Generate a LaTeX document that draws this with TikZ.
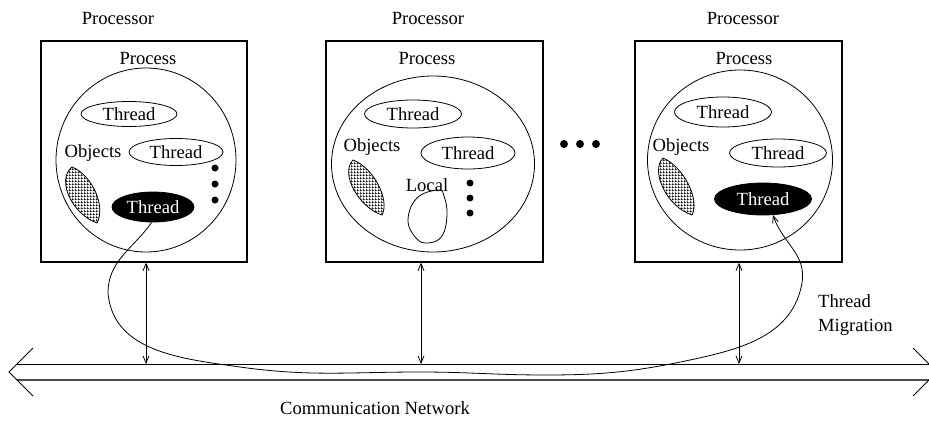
\documentclass[tikz,border=0pt]{standalone}
\usepackage{fontspec}
\setmainfont{Liberation Serif}
\usetikzlibrary{shapes.geometric,patterns,arrows.meta}

% fine square mesh fill for the object blobs
\pgfdeclarepatternformonly{finemesh}{\pgfpointorigin}{\pgfqpoint{3pt}{3pt}}{\pgfqpoint{3pt}{3pt}}{%
  \pgfpathrectangle{\pgfpointorigin}{\pgfqpoint{3pt}{0.9pt}}%
  \pgfpathrectangle{\pgfpointorigin}{\pgfqpoint{0.9pt}{3pt}}%
  \pgfusepath{fill}}

\tikzset{
  lbl/.style={inner sep=0pt, font=\fontsize{18.6}{24}\selectfont},
  procbox/.style={draw, line width=1.3pt, inner sep=0pt},
  procarea/.style={draw, ellipse, line width=0.8pt, inner sep=0pt},
  thr/.style={draw, ellipse, line width=0.8pt, inner sep=0pt, font=\fontsize{18.6}{22}\selectfont},
  thrblack/.style={thr, fill=black, text=white},
  objblob/.style={draw, line width=0.8pt, pattern=finemesh},
  bigdot/.style={circle, fill=black, inner sep=0pt, minimum size=7pt},
  link/.style={line width=0.8pt, {Straight Barb[length=7pt,width=6pt]}-{Straight Barb[length=7pt,width=6pt]}},
  migr/.style={line width=0.8pt, -{Straight Barb[length=7pt,width=6pt]}},
}

\begin{document}
\begin{tikzpicture}[x=1pt, y=-1pt]
\useasboundingbox (0,0) rectangle (929,428);
\clip (0,0) rectangle (929,428);

% ---------- processor 1 ----------
\node[lbl] (pr1) at (118,19) {Processor};
\node[procbox, minimum width=206pt, minimum height=221pt] (box1) at (144,151.5) {};
\node[procarea, minimum width=180pt, minimum height=184pt] (c1) at (146,160) {};
\node[lbl] (ps1) at (148,59) {Process};
\node[thr, minimum width=96pt, minimum height=25pt] (t11) at (129,114) {Thread};
\node[thr, minimum width=94pt, minimum height=27pt] (t12) at (176,152) {Thread};
\node[thrblack, minimum width=82pt, minimum height=30pt] (t13) at (153,207) {Thread};
\node[lbl] (ob1) at (93,153) {Objects};
\draw[objblob] (72,167) .. controls (56,180) and (72,214) .. (97,223)
                      .. controls (106,206) and (92,175) .. cycle;
\node[bigdot] (d11) at (215,168) {};
\node[bigdot] (d12) at (215,184) {};
\node[bigdot] (d13) at (215,200) {};

% ---------- processor 2 ----------
\node[lbl] (pr2) at (428,19) {Processor};
\node[procbox, minimum width=217pt, minimum height=221pt] (box2) at (434.5,151.5) {};
\node[procarea, minimum width=203pt, minimum height=176pt] (c2) at (433,164) {};
\node[lbl] (ps2) at (427,59) {Process};
\node[thr, minimum width=97pt, minimum height=28pt] (t21) at (413,114) {Thread};
\node[thr, minimum width=94pt, minimum height=32pt] (t22) at (468,153) {Thread};
\node[lbl] (ob2) at (372,147) {Objects};
\draw[objblob] (353,160) .. controls (340,173) and (358,207) .. (382,215)
                        .. controls (390,200) and (374,168) .. cycle;
\node[lbl] (loc) at (427,185) {Local};
\draw[line width=0.8pt] plot[smooth cycle, tension=0.7] coordinates
  {(438,190) (417,198) (408,220) (416,238) (428,243) (442,236) (447,215) (444,196)};
\node[bigdot] (d21) at (470,183) {};
\node[bigdot] (d22) at (470,198) {};
\node[bigdot] (d23) at (470,213) {};

% ---------- dots between processors ----------
\node[bigdot, minimum size=8pt] (m1) at (564,144) {};
\node[bigdot, minimum size=8pt] (m2) at (580,144) {};
\node[bigdot, minimum size=8pt] (m3) at (596,144) {};

% ---------- processor 3 ----------
\node[lbl] (pr3) at (743,19) {Processor};
\node[procbox, minimum width=207pt, minimum height=221pt] (box3) at (738.5,151.5) {};
\node[procarea, minimum width=185pt, minimum height=180pt] (c3) at (740,160) {};
\node[lbl] (ps3) at (744,59) {Process};
\node[thr, minimum width=97pt, minimum height=30pt] (t31) at (723,112) {Thread};
\node[thr, minimum width=97pt, minimum height=28pt] (t32) at (778,153) {Thread};
\node[thrblack, minimum width=97pt, minimum height=32pt] (t33) at (763,199) {Thread};
\node[lbl] (ob3) at (681,147) {Objects};
\draw[objblob] (663,158) .. controls (650,171) and (667,207) .. (692,215)
                        .. controls (700,200) and (684,167) .. cycle;

% ---------- communication network ----------
\coordinate (nl) at (9,372);
\coordinate (nr) at (937,372);
\draw[line width=0.9pt] (17,364) -- (929,364);
\draw[line width=1.3pt, black!70] (17,380) -- (929,380);
\draw[line width=0.8pt] (33,348) -- (nl) -- (33,396);
\draw[line width=0.8pt] (913,348) -- (nr) -- (913,396);
\node[lbl] (cn) at (375,408) {Communication Network};

% ---------- links from processors to the network ----------
\coordinate (n1) at (146,364);
\coordinate (n2) at (421,364);
\coordinate (n3) at (739,364);
\draw[link] (box1.south -| n1) -- (n1);
\draw[link] (box2.south -| n2) -- (n2);
\draw[link] (box3.south -| n3) -- (n3);

% ---------- thread migration ----------
\draw[migr] (t13.-95) to[out=-125,in=90] (108,293)
  to[out=-85,in=172] (240,367)
  to[out=-8,in=180] (420,372)
  to[out=0,in=180] (545,375)
  to[out=0,in=192] (690,360)
  to[out=12,in=-100] (802,283)
  to[out=80,in=-72] (t33.-58);
\node[lbl, anchor=west, align=left] (tm) at (818,315) {Thread\\Migration};
\end{tikzpicture}
\end{document}
